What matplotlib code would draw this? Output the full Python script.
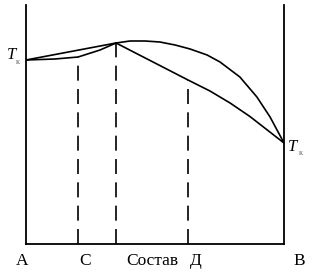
import matplotlib
matplotlib.use("Agg")
import matplotlib.pyplot as plt

# composition (% B) and temperature (arbitrary units)
left_lower_x = [0, 11.2, 20.2, 28.7, 34.9]
left_lower_T = [184, 185, 187, 194, 201]
left_upper_x = [0, 34.9]
left_upper_T = [184, 201]
right_upper_x = [34.9, 40.3, 46.1, 51.9, 57.8, 63.6, 70.2, 75.2, 82.9, 89.5, 94.6, 100]
right_upper_T = [201, 203, 203, 202, 199, 195, 189, 182, 167, 147, 127, 101]
right_lower_x = [34.9, 48.1, 62.8, 71.3, 79.1, 86.8, 100]
right_lower_T = [201, 183.5, 164, 153, 141, 127.5, 101]
dash_x = [20.2, 34.9, 62.8]
dash_T = [187, 201, 164]
bottom_labels = ["А", "С", "Состав", "Д", "В"]
bottom_pos = [-1.6, 22.9, 48.8, 65.9, 105.8]

fig = plt.figure(figsize=(3.17, 2.76), dpi=100)
ax = fig.add_axes([26/317, 32/276, 258/317, 239/276])
ax.set_xlim(0, 100)
ax.set_ylim(0, 239)
ax.spines["top"].set_visible(False)
for s in ["left", "right", "bottom"]:
    ax.spines[s].set_linewidth(1.3)
ax.set_xticks([])
ax.set_yticks([])

lw = 1.2
ax.plot(left_lower_x, left_lower_T, color="black", lw=lw)
ax.plot(left_upper_x, left_upper_T, color="black", lw=lw)
ax.plot(right_upper_x, right_upper_T, color="black", lw=lw)
ax.plot(right_lower_x, right_lower_T, color="black", lw=lw)
for x, T in zip(dash_x, dash_T):
    ax.plot([x, x], [0, T], color="black", lw=lw, dashes=(9, 5))

font = dict(family="Liberation Serif", fontsize=12.5, color="black")
for lab, x in zip(bottom_labels, bottom_pos):
    ax.text(x, -17, lab, ha="center", va="center", clip_on=False, **font)

# T_k labels
ax.text(-5.8, 189, "T", ha="center", va="center", style="italic", clip_on=False,
        family="Liberation Serif", fontsize=12)
ax.text(-3.1, 182, "к", ha="center", va="center", clip_on=False,
        family="Liberation Serif", fontsize=6, color="#666666")
ax.text(103.5, 97, "T", ha="center", va="center", style="italic", clip_on=False,
        family="Liberation Serif", fontsize=12)
ax.text(106.6, 91, "к", ha="center", va="center", clip_on=False,
        family="Liberation Serif", fontsize=6, color="#666666")

fig.savefig("out.png", dpi=100)
